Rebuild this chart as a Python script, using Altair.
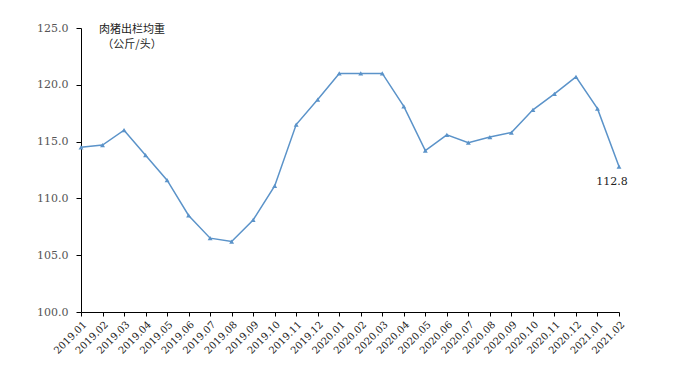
import altair as alt
import pandas as pd

months = ["2019.01", "2019.02", "2019.03", "2019.04", "2019.05", "2019.06",
          "2019.07", "2019.08", "2019.09", "2019.10", "2019.11", "2019.12",
          "2020.01", "2020.02", "2020.03", "2020.04", "2020.05", "2020.06",
          "2020.07", "2020.08", "2020.09", "2020.10", "2020.11", "2020.12",
          "2021.01", "2021.02"]
weights = [114.5, 114.7, 116.0, 113.8, 111.6, 108.5, 106.5, 106.2, 108.1, 111.1,
           116.5, 118.7, 121.0, 121.0, 121.0, 118.1, 114.2, 115.6, 114.9, 115.4,
           115.8, 117.8, 119.2, 120.7, 117.9, 112.8]
title_line1 = "肉猪出栏均重"
title_line2 = "（公斤/头）"
last_label = "112.8"

df = pd.DataFrame({"month": months, "weight": weights})

serif = "'DejaVu Serif', 'Liberation Serif', serif"
cjk = "Noto Sans CJK SC"
line_color = "#5B93C9"

x = alt.X("month:O", sort=months, title=None,
          scale=alt.Scale(type="point", padding=0),
          axis=alt.Axis(labelAngle=-45, labelFont=serif, labelFontSize=10,
                        labelColor="#222222", domainColor="#000000", tickColor="#000000",
                        tickSize=4, labelPadding=3))
y = alt.Y("weight:Q", title=None,
          scale=alt.Scale(domain=[100, 125], nice=False, zero=False),
          axis=alt.Axis(values=[100, 105, 110, 115, 120, 125], format=".1f",
                        labelFont=serif, labelFontSize=11, labelColor="#555555",
                        domainColor="#000000", tickColor="#000000", tickSize=5,
                        grid=False, labelPadding=8))

base = alt.Chart(df)
line = base.mark_line(color=line_color, strokeWidth=1.5).encode(x=x, y=y)
pts = base.mark_point(shape="triangle-up", filled=True, size=24, color=line_color,
                      opacity=1).encode(x=x, y=y)

lab_df = pd.DataFrame({"month": [months[-1]], "weight": [weights[-1]], "t": [last_label]})
lab = alt.Chart(lab_df).mark_text(font=serif, fontSize=11, color="#222222",
                                  dx=-7, dy=15).encode(x=x, y=y, text="t:N")

t1_df = pd.DataFrame({"t": [title_line1]})
t2_df = pd.DataFrame({"t": [title_line2]})
t1 = alt.Chart(t1_df).mark_text(font=cjk, fontSize=11, color="#222222", align="center",
                                baseline="middle").encode(
    x=alt.value(51), y=alt.value(2), text="t:N")
t2 = alt.Chart(t2_df).mark_text(font=cjk, fontSize=11, color="#222222", align="center",
                                baseline="middle").encode(
    x=alt.value(51), y=alt.value(17), text="t:N")

chart = alt.layer(line, pts, lab, t1, t2).properties(
    width=538, height=284,
    autosize=alt.AutoSizeParams(type="none"),
    padding={"left": 81, "top": 28, "right": 59, "bottom": 62},
    background="white",
).configure_view(stroke=None)

chart.save("out.html", embed_options={"renderer": "svg", "actions": False})
